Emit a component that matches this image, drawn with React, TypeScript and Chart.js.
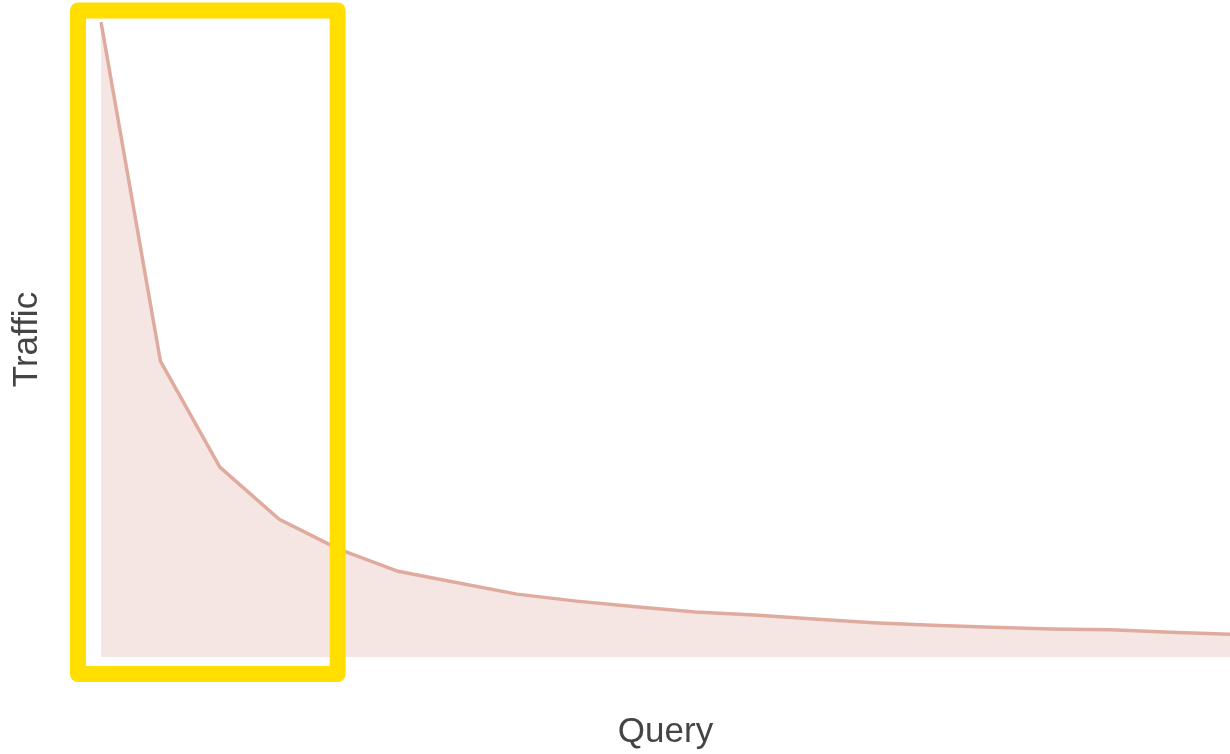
import React, { useEffect, useRef } from "react";
import { Chart, registerables } from "chart.js";

Chart.register(...registerables);

const queries: string[] = Array.from({ length: 20 }, (_, i) => `Q${i + 1}`);
const traffic: number[] = [
  100, 46.6, 29.9, 21.7, 17.0, 13.5, 11.7, 9.9, 8.8, 7.9,
  7.1, 6.6, 6.0, 5.4, 5.0, 4.7, 4.4, 4.3, 3.9, 3.6,
];
const highlightFrom = 0;
const highlightTo = 4;

const highlightPlugin = {
  id: "highlightBox",
  afterDatasetsDraw(chart: any) {
    const { ctx, chartArea, scales } = chart;
    const x = scales.x;
    const left = x.getPixelForValue(highlightFrom) - 23;
    const right = x.getPixelForValue(highlightTo) - 1;
    const top = chartArea.top - 11.5;
    const bottom = chartArea.bottom + 17;
    ctx.save();
    ctx.strokeStyle = "#FFDE00";
    ctx.lineWidth = 16;
    ctx.lineJoin = "round";
    ctx.strokeRect(left, top, right - left, bottom - top);
    ctx.restore();
  },
};

export default function App() {
  const ref = useRef<HTMLCanvasElement | null>(null);
  useEffect(() => {
    document.body.style.margin = "0";
    if (!ref.current) return;
    const chart = new Chart(ref.current, {
      type: "line",
      data: {
        labels: queries,
        datasets: [
          {
            data: traffic,
            borderColor: "#e0ab9f",
            backgroundColor: "#f5e5e3",
            borderWidth: 3.5,
            fill: "origin",
            pointRadius: 0,
            tension: 0,
          },
        ],
      },
      options: {
        animation: false,
        responsive: false,
        layout: { padding: { top: 22, right: 0, bottom: 0, left: 0 } },
        plugins: { legend: { display: false }, tooltip: { enabled: false } },
        scales: {
          x: {
            grid: { display: false, drawTicks: false },
            border: { display: false },
            ticks: { display: false },
            title: {
              display: true,
              text: "Query",
              color: "#444444",
              font: { family: "'Liberation Sans', Arial, sans-serif", size: 35 },
              padding: { top: 54, bottom: 1 },
            },
          },
          y: {
            min: 0,
            max: 100,
            grid: { display: false, drawTicks: false },
            border: { display: false },
            ticks: { display: false },
            title: {
              display: true,
              text: "Traffic",
              color: "#444444",
              font: { family: "'Liberation Sans', Arial, sans-serif", size: 35 },
              padding: { top: 6, bottom: 53 },
            },
          },
        },
      },
      plugins: [highlightPlugin],
    });
    return () => chart.destroy();
  }, []);
  return (
    <div style={{ position: "relative", width: 1230, height: 754 }}>
      <canvas ref={ref} width={1230} height={754} style={{ display: "block" }} />
    </div>
  );
}
